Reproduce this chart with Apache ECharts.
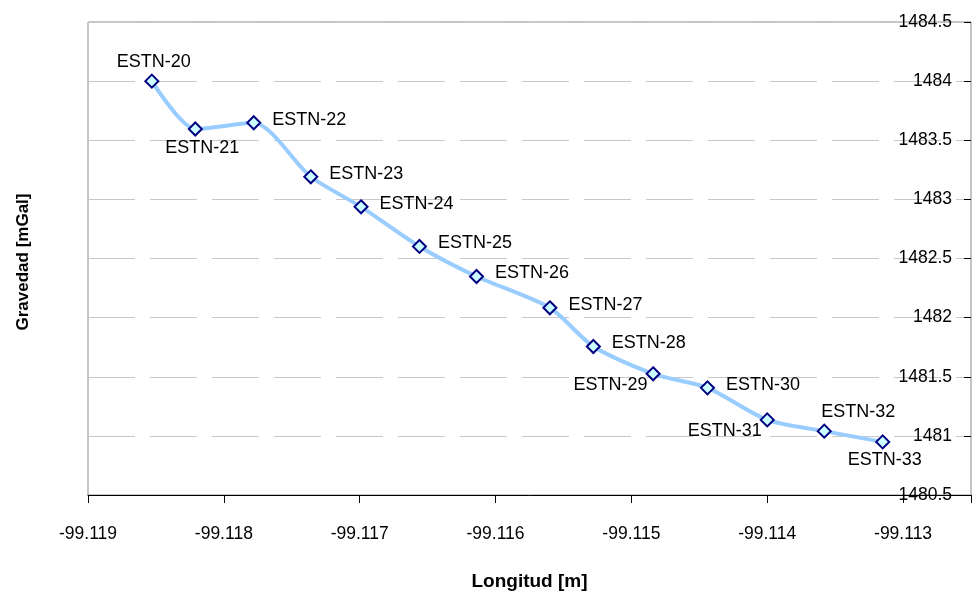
<!DOCTYPE html>
<html>
<head>
<meta charset="utf-8">
<script src="https://cdn.jsdelivr.net/npm/echarts@6/dist/echarts.min.js"></script>
<style>
  html, body { margin: 0; padding: 0; background: #fff; }
  #chart { width: 974px; height: 598px; }
</style>
</head>
<body>
<div id="chart"></div>
<script>
// Station names, longitude and measured gravity along the profile
const stations = ['ESTN-20', 'ESTN-21', 'ESTN-22', 'ESTN-23', 'ESTN-24', 'ESTN-25', 'ESTN-26',
                  'ESTN-27', 'ESTN-28', 'ESTN-29', 'ESTN-30', 'ESTN-31', 'ESTN-32', 'ESTN-33'];
const longitude = [-99.11853, -99.11821, -99.11778, -99.11736, -99.11699, -99.11656, -99.11614,
                   -99.11560, -99.11528, -99.11484, -99.11444, -99.11400, -99.11358, -99.11315];
const gravity = [1484.00, 1483.595, 1483.648, 1483.191, 1482.937, 1482.602, 1482.348,
                 1482.083, 1481.756, 1481.525, 1481.406, 1481.135, 1481.040, 1480.949];

// Axis ranges and tick spacing
const xMin = -99.119, xMax = -99.1125, xStep = 0.001;
const yMin = 1480.5, yMax = 1484.5, yStep = 0.5;

// Where each station label sits relative to its marker
const labelSide = ['above', 'below', 'right', 'right', 'right', 'right', 'right',
                   'right', 'right', 'leftBelow', 'right', 'leftBelow', 'aboveRight', 'belowRight'];

const FONT = "'Liberation Sans', Arial, sans-serif";

function labelFor(side) {
  const base = { show: true, color: '#000', fontFamily: FONT, fontSize: 18, formatter: '{b}' };
  switch (side) {
    case 'above': return Object.assign(base, { position: 'inside', offset: [2, -19] });
    case 'below': return Object.assign(base, { position: 'inside', offset: [7, 19] });
    case 'leftBelow': return Object.assign(base, { position: 'left', distance: 0, offset: [2, 11] });
    case 'aboveRight': return Object.assign(base, { position: 'inside', offset: [34, -19] });
    case 'belowRight': return Object.assign(base, { position: 'inside', offset: [2, 18] });
    default: return Object.assign(base, { position: 'right', distance: 11, offset: [0, -3] });
  }
}

const points = stations.map((name, i) => ({
  name: name,
  value: [longitude[i], gravity[i]],
  label: labelFor(labelSide[i])
}));

const chart = echarts.init(document.getElementById('chart'), null, { renderer: 'canvas' });

chart.setOption({
  animation: false,
  backgroundColor: '#ffffff',
  grid: {
    left: 88, right: -1, top: 22, bottom: 103,
    show: true, borderColor: '#8c8c8c', borderWidth: 1, backgroundColor: 'transparent'
  },
  xAxis: {
    type: 'value',
    min: xMin, max: xMax, interval: xStep,
    name: 'Longitud [m]',
    nameLocation: 'middle',
    nameGap: 77,
    nameTextStyle: { fontFamily: FONT, fontSize: 19, fontWeight: 'bold', color: '#000' },
    axisLine: { show: true, onZero: false, lineStyle: { color: '#000', width: 1 } },
    axisTick: { show: true, length: 8, lineStyle: { color: '#000' } },
    axisLabel: {
      margin: 30,
      fontFamily: FONT, fontSize: 17.5, color: '#000',
      formatter: function (v) {
        const k = (v - xMin) / xStep;
        if (Math.abs(k - Math.round(k)) > 1e-6) return '';
        return v.toFixed(3);
      }
    },
    splitLine: { show: false }
  },
  yAxis: {
    type: 'value',
    position: 'right',
    min: yMin, max: yMax, interval: yStep,
    axisLine: { show: false },
    axisTick: { show: true, inside: true, length: 7, lineStyle: { color: '#000' } },
    axisLabel: {
      inside: true, margin: 19,
      fontFamily: FONT, fontSize: 17.5, color: '#000',
      formatter: function (v) { return String(Math.round(v * 10) / 10); }
    },
    splitLine: {
      show: true,
      lineStyle: { color: '#c8c8c8', width: 1, type: [47, 15], dashOffset: 0 }
    }
  },
  graphic: [{
    type: 'text',
    x: 23, y: 262,
    rotation: Math.PI / 2,
    style: {
      text: 'Gravedad [mGal]',
      fontFamily: FONT, fontSize: 17, fontWeight: 'bold', fill: '#000',
      align: 'center', verticalAlign: 'middle'
    }
  }],
  series: [{
    type: 'line',
    data: points,
    smooth: 0.25,
    symbol: 'diamond',
    symbolSize: 13,
    lineStyle: { color: '#99ccff', width: 4 },
    itemStyle: { color: '#ccffff', borderColor: '#000080', borderWidth: 2 },
    emphasis: { disabled: true },
    z: 3
  }]
});
</script>
</body>
</html>
